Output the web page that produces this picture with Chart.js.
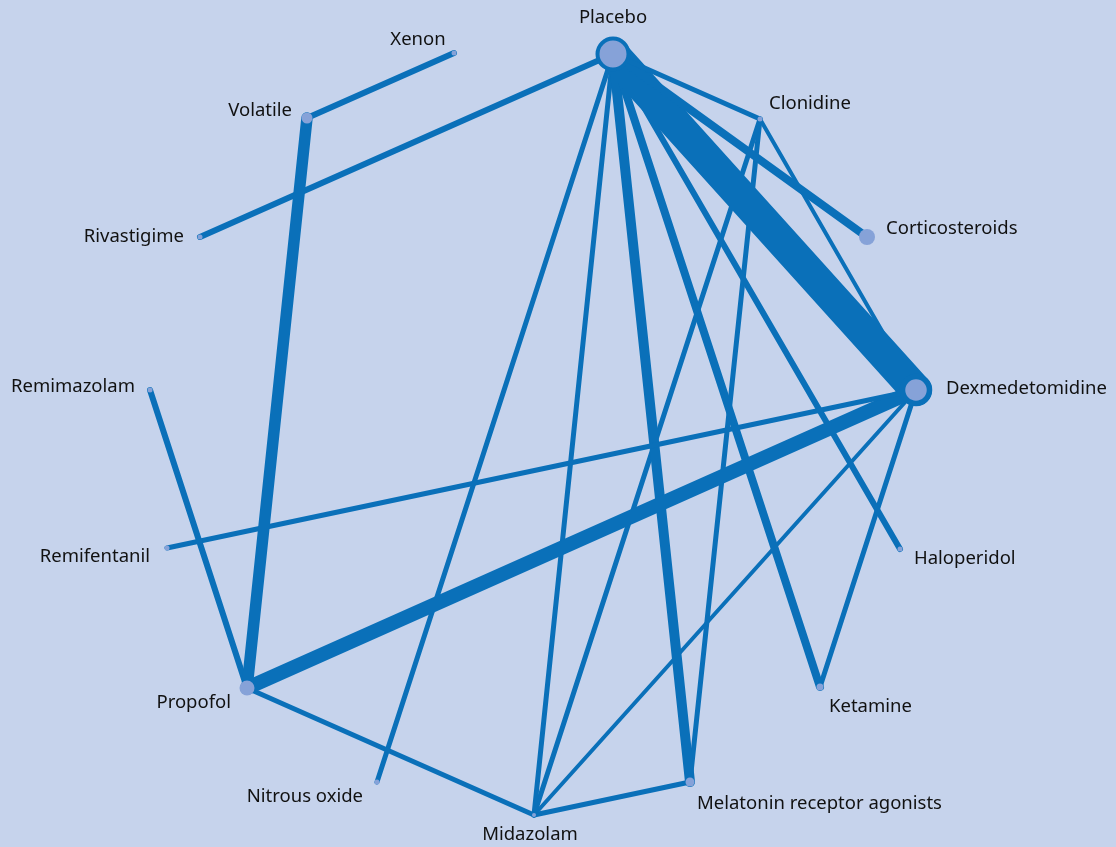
<!DOCTYPE html>
<html>
<head>
<meta charset="utf-8">
<script src="https://cdn.jsdelivr.net/npm/chart.js@4/dist/chart.umd.min.js"></script>
<style>
    html, body { margin: 0; padding: 0; background: #c6d3ec; }
    #wrap { width: 1116px; height: 847px; position: relative; }
</style>
</head>
<body>
<div id="wrap"><canvas id="networkChart"></canvas></div>
<script>
// treatments (nodes) and where they sit in the network layout
var treatments = ["Placebo", "Xenon", "Volatile", "Clonidine", "Rivastigime", "Corticosteroids",
    "Remimazolam", "Dexmedetomidine", "Remifentanil", "Haloperidol", "Propofol", "Ketamine",
    "Nitrous oxide", "Melatonin receptor agonists", "Midazolam"];
var nodeX = [613, 454, 307, 760, 200, 867, 150, 916, 167, 900, 247, 820, 377, 690, 534];
var nodeY = [54, 53, 118, 119, 237, 237, 390, 390, 548, 549, 688, 687, 782, 782, 815];
// node size ~ number of patients
var nodeSize = [15.5, 2.5, 5.5, 2.5, 2.5, 8, 2.5, 13.5, 2.5, 2.5, 7.5, 3.5, 2.5, 4.5, 2];

// direct comparisons (from, to) and line width ~ number of trials
var edgeFrom = ["Xenon", "Volatile", "Remimazolam", "Remifentanil", "Propofol", "Propofol",
    "Rivastigime", "Placebo", "Placebo", "Placebo", "Placebo", "Placebo", "Placebo", "Placebo", "Placebo",
    "Clonidine", "Clonidine", "Clonidine", "Dexmedetomidine", "Dexmedetomidine", "Midazolam"];
var edgeTo = ["Volatile", "Propofol", "Propofol", "Dexmedetomidine", "Dexmedetomidine", "Midazolam",
    "Placebo", "Clonidine", "Corticosteroids", "Dexmedetomidine", "Haloperidol", "Ketamine",
    "Melatonin receptor agonists", "Midazolam", "Nitrous oxide",
    "Dexmedetomidine", "Midazolam", "Melatonin receptor agonists", "Midazolam", "Ketamine",
    "Melatonin receptor agonists"];
var edgeWeight = [6, 11.5, 6, 5, 14, 5, 6, 5, 8, 32, 6, 8, 10, 5, 5, 4, 5, 5, 4, 5, 5];

// label anchor per node: offset and alignment
var labelDx = [0, -36, -15, 9, -16, 19, -15, 30, -17, 14, -16, 9, -14, 7, -4];
var labelDy = [-36, -13, -7, -15, 0, -8, -3, -1, 9, 10, 15, 20, 15, 22, 20];
var labelAlign = ["center", "center", "right", "left", "right", "left", "right", "left", "right",
    "left", "right", "left", "right", "left", "center"];

var lineColor = "#0a70b9";
var nodeFill = "#86a2d8";

var datasets = [];
for (var i = 0; i < edgeFrom.length; i++) {
    var a = treatments.indexOf(edgeFrom[i]);
    var b = treatments.indexOf(edgeTo[i]);
    datasets.push({
        type: 'line',
        data: [{ x: nodeX[a], y: nodeY[a] }, { x: nodeX[b], y: nodeY[b] }],
        borderColor: lineColor,
        borderWidth: edgeWeight[i],
        borderCapStyle: 'round',
        pointRadius: 0,
        showLine: true,
        clip: false,
        order: 2
    });
}

datasets.push({
    type: 'scatter',
    data: treatments.map(function (t, i) { return { x: nodeX[i], y: nodeY[i] }; }),
    pointRadius: nodeSize,
    pointBackgroundColor: nodeFill,
    pointBorderColor: lineColor,
    // only the two big hubs get a ring
    pointBorderWidth: nodeSize.map(function (s) { return s > 15 ? 4 : (s > 10 ? 5.5 : 0); }),
    clip: false,
    order: 1
});

// draws the treatment names next to each node
var nodeLabels = {
    id: 'nodeLabels',
    afterDatasetsDraw: function (chart) {
        var ctx = chart.ctx;
        var xs = chart.scales.x, ys = chart.scales.y;
        ctx.save();
        ctx.font = '18.5px "Noto Sans", sans-serif';
        ctx.fillStyle = "#111111";
        ctx.textBaseline = "middle";
        for (var i = 0; i < treatments.length; i++) {
            ctx.textAlign = labelAlign[i];
            ctx.fillText(treatments[i], xs.getPixelForValue(nodeX[i]) + labelDx[i],
                ys.getPixelForValue(nodeY[i]) + labelDy[i]);
        }
        ctx.restore();
    }
};

new Chart(document.getElementById("networkChart"), {
    type: 'scatter',
    data: { datasets: datasets },
    options: {
        responsive: true,
        maintainAspectRatio: false,
        animation: false,
        layout: { padding: 0, autoPadding: false },
        plugins: { legend: { display: false }, tooltip: { enabled: false } },
        scales: {
            x: { display: false, min: 0, max: 1116 },
            y: { display: false, min: 0, max: 847, reverse: true }
        }
    },
    plugins: [nodeLabels]
});
</script>
</body>
</html>
